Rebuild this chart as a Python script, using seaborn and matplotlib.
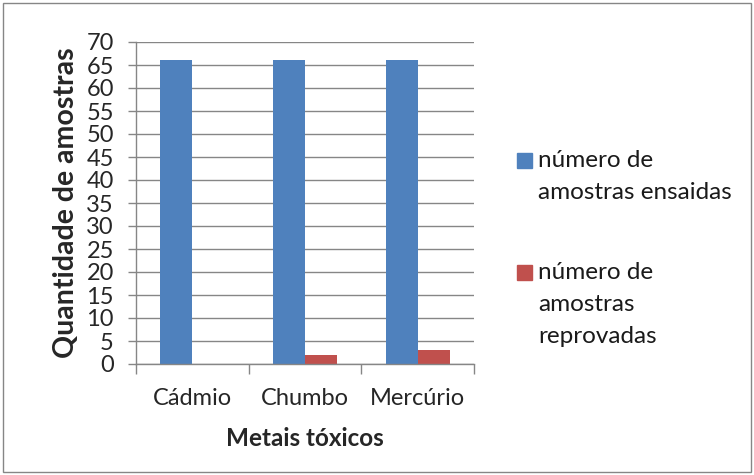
import pandas as pd
import seaborn as sns
import matplotlib.pyplot as plt
from matplotlib.patches import Rectangle

metais = ["Cádmio", "Chumbo", "Mercúrio"]
ensaiadas = [66, 66, 66]
reprovadas = [0, 2, 3]
series = ["número de\namostras ensaidas", "número de\namostras\nreprovadas"]
cores = ["#4F81BD", "#C0504D"]

df = pd.DataFrame({
    "metal": metais * 2,
    "valor": ensaiadas + reprovadas,
    "serie": [series[0]] * 3 + [series[1]] * 3,
})

sns.set_style("white")
plt.rcParams['font.family'] = ['Lato', 'DejaVu Sans']

W, H = 754, 475
fig = plt.figure(figsize=(W / 100, H / 100), dpi=100)
ax = fig.add_axes([136 / W, 1 - 364 / H, 338 / W, 322 / H])

sns.barplot(data=df, x="metal", y="valor", hue="serie", palette=cores,
            width=0.57, gap=0, saturation=1, linewidth=0, ax=ax, legend=False)

ax.set_ylim(0, 70)
ax.set_xlim(-0.5, 2.5)
ax.set_yticks(range(0, 71, 5))
ax.yaxis.grid(True, color="#868686", linewidth=1)
ax.set_axisbelow(True)
for s in ["top", "right"]:
    ax.spines[s].set_visible(False)
for s in ["left", "bottom"]:
    ax.spines[s].set_color("#868686")
    ax.spines[s].set_linewidth(1)

ax.tick_params(axis="y", length=6, color="#868686", width=1, labelsize=17, pad=10, left=True)
ax.set_xticks([-0.5, 0.5, 1.5, 2.5], minor=True)
ax.tick_params(axis="x", which="minor", length=7, color="#868686", width=1, bottom=True)
ax.tick_params(axis="x", which="major", length=0, labelsize=17, pad=17)

ax.set_ylabel("Quantidade de amostras", fontsize=20.5, fontweight="bold", labelpad=5)
ax.set_xlabel("Metais tóxicos", fontsize=17.5, fontweight="bold", labelpad=13)

# legenda no estilo do Excel: quadrado alinhado com a primeira linha
centros = [160, 272]
for lab, cor, yc in zip(series, cores, centros):
    fig.add_artist(Rectangle((517 / W, 1 - (yc + 7.5) / H), 15 / W, 15 / H,
                             transform=fig.transFigure, color=cor))
    for i, linha in enumerate(lab.split("\n")):
        fig.text(538 / W, 1 - (yc + 7 + 32 * i) / H, linha, fontsize=17.5,
                 va="baseline", ha="left", color="#1a1a1a")

fig.add_artist(Rectangle((3 / W, 3 / H), 748 / W, 469 / H, transform=fig.transFigure,
                         fill=False, edgecolor="#868686", linewidth=1))

fig.savefig("out.png", dpi=100)
